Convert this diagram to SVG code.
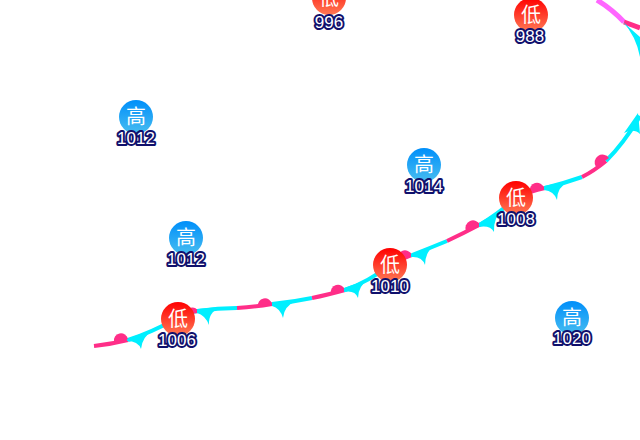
<svg xmlns="http://www.w3.org/2000/svg" width="640" height="440" viewBox="0 0 640 440">
<style>
.g{font-family:"Noto Sans CJK SC","Liberation Sans",sans-serif;font-size:20px;fill:#fff;text-anchor:middle}
.n{font-family:"Liberation Sans",Arial,sans-serif;font-size:17px;fill:#fff;stroke:#10106c;stroke-width:4px;paint-order:stroke;text-anchor:middle;stroke-linejoin:round}
.c{fill:none;stroke:#00efff;stroke-width:4}
.p{fill:none;stroke:#ff2e88;stroke-width:4}
.ct{fill:#00efff}
.pt{fill:#ff2e88}
</style>
<defs>
<linearGradient id="lo" x1="0" y1="0" x2="0" y2="1"><stop offset="0" stop-color="#ff0000"/><stop offset="1" stop-color="#ff7a55"/></linearGradient>
<linearGradient id="hi" x1="0" y1="0" x2="0" y2="1"><stop offset="0" stop-color="#008ffa"/><stop offset="1" stop-color="#48bdf0"/></linearGradient>
</defs>
<rect width="640" height="440" fill="#fff"/>
<g id="connectors">
<path class="p" d="M94 346Q112 344 128 340"/>
<path class="c" d="M128 340Q150 333 178 318Q188 312 198 311"/>
<path class="p" d="M178 318Q186 312 198 311"/>
<path class="c" d="M198 311Q218 308 237 308"/>
<path class="p" d="M237 308Q255 307 272 304"/>
<path class="c" d="M272 304Q293 302 312 298"/>
<path class="p" d="M312 298Q327 295 345 290"/>
<path class="c" d="M345 290Q368 282 390 265"/>
<path class="p" d="M392 263Q400 260 412 255"/>
<path class="c" d="M412 255Q430 248 447 241"/>
<path class="p" d="M447 241Q464 233 481 224"/>
<path class="c" d="M481 224Q498 214 516 198"/>
<path class="p" d="M516 198Q530 191 545 188"/>
<path class="c" d="M545 188Q565 183 582 177"/>
<path class="p" d="M582 177Q594 171 606 161"/>
<path class="c" d="M606 161Q624 143 640 116"/>
<path class="pt" d="M114 342A7 7 0 0 1 128 339Z"/>
<path class="pt" d="M185 314A7 7 0 0 1 198 311Z"/>
<path class="pt" d="M258 307A7 7 0 0 1 272 304Z"/>
<path class="pt" d="M331 294A7 7 0 0 1 345 290Z"/>
<path class="pt" d="M398 261A7 7 0 0 1 412 255Z"/>
<path class="pt" d="M466 231A7 7 0 0 1 480 225Z"/>
<path class="pt" d="M530 192A7 7 0 0 1 544 188Z"/>
<path class="pt" d="M596 167A7.500 7.500 0 0 1 609 158Z"/>
<path class="ct" d="M127 339L154 329Q142 337 141 349Q138 341 127 341Z"/>
<path class="ct" d="M197 309L220 307Q208 313 209 325Q205 315 197 313Z"/>
<path class="ct" d="M272 303L296 301Q284 306 283 318Q280 308 272 306Z"/>
<path class="ct" d="M344 288L369 279Q358 286 358 298Q355 290 344 292Z"/>
<path class="ct" d="M411 254L435 245Q425 252 425 265Q422 256 411 257Z"/>
<path class="ct" d="M479 223L503 209Q493 218 494 232Q490 225 479 227Z"/>
<path class="ct" d="M544 186L569 181Q557 187 557 200Q554 191 544 190Z"/>
<path class="ct" d="M624 133L638 113L640 134Q634 128 624 133Z"/>
<path d="M597 0Q612 9 624 22" fill="none" stroke="#ff66ff" stroke-width="5"/>
<path d="M624 22L640 28" fill="none" stroke="#ff2e88" stroke-width="5"/>
<path class="ct" d="M623 22L640 37V57Q636 36 623 22Z"/>
</g>
<g id="h1"><circle cx="136" cy="117" r="17" fill="url(#hi)"/><text class="g" x="136" y="124">高</text><text class="n" x="136" y="143.500">1012</text></g>
<g id="h2"><circle cx="186" cy="238" r="17" fill="url(#hi)"/><text class="g" x="186" y="245">高</text><text class="n" x="186" y="264.500">1012</text></g>
<g id="h3"><circle cx="424" cy="165" r="17" fill="url(#hi)"/><text class="g" x="424" y="172">高</text><text class="n" x="424" y="191.500">1014</text></g>
<g id="h4"><circle cx="572" cy="318" r="17" fill="url(#hi)"/><text class="g" x="572" y="325">高</text><text class="n" x="572" y="344">1020</text></g>
<g id="l1"><circle cx="178" cy="319" r="17" fill="url(#lo)"/><text class="g" x="178" y="326">低</text><text class="n" x="177" y="345.500">1006</text></g>
<g id="l2"><circle cx="390" cy="265" r="17" fill="url(#lo)"/><text class="g" x="390" y="272">低</text><text class="n" x="390" y="292">1010</text></g>
<g id="l3"><circle cx="516" cy="198" r="17" fill="url(#lo)"/><text class="g" x="516" y="205">低</text><text class="n" x="516" y="225">1008</text></g>
<g id="l4"><circle cx="531" cy="15" r="17" fill="url(#lo)"/><text class="g" x="531" y="22">低</text><text class="n" x="530" y="41.500">988</text></g>
<g id="l5"><circle cx="329" cy="-2" r="17" fill="url(#lo)"/><text class="g" x="329" y="5">低</text><text class="n" x="329" y="28">996</text></g>
</svg>
